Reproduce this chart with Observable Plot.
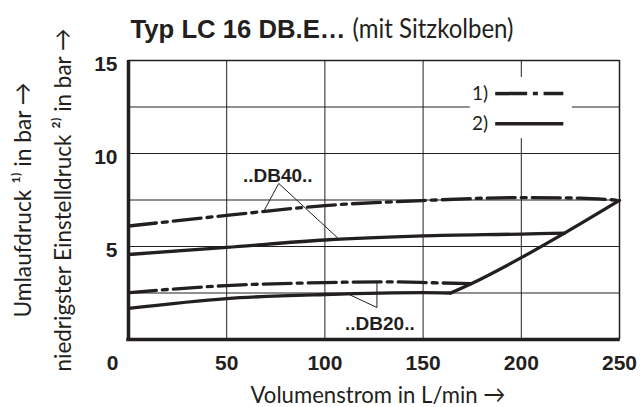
<!DOCTYPE html>
<html>
<head>
<meta charset="utf-8">
<script src="https://cdn.jsdelivr.net/npm/d3@7"></script>
<script src="https://cdn.jsdelivr.net/npm/@observablehq/plot@0.6"></script>
<style>
  html, body { margin: 0; padding: 0; background: #fff; }
  #chart { width: 642px; height: 407px; overflow: hidden; }
</style>
</head>
<body>
<div id="chart"></div>
<script>
// ---- data ----
const xTicks = [0, 50, 100, 150, 200, 250];
const yTicks = [5, 10, 15];
const xGrid = [50, 100, 150, 200];
const yGrid = [2.5, 5, 7.5, 10, 12.5];

// [Volumenstrom L/min, Druck bar]
const db40Umlauf = [[0, 6.1], [50, 6.67], [100, 7.2], [150, 7.47], [200, 7.63], [230, 7.6], [250, 7.48]];
const db40Einstell = [[0, 4.57], [50, 4.95], [100, 5.35], [150, 5.57], [200, 5.67], [222, 5.72]];
const db20Umlauf = [[0, 2.52], [50, 2.9], [100, 3.06], [130, 3.1], [155, 3.05], [174.5, 3.0]];
const db20Einstell = [[0, 1.67], [50, 2.2], [100, 2.42], [150, 2.52], [164, 2.5]];
const limitLine = [[164, 2.5], [174.5, 3.0], [200, 4.4], [222, 5.72], [250, 7.48]];

// annotations
const db40Label = {text: "..DB40..", x: 76, y: 8.82};
const db20Label = {text: "..DB20..", x: 128, y: 0.86};
const db40Leaders = [{x1: 76.5, y1: 8.39, x2: 68.9, y2: 6.9}, {x1: 76.5, y1: 8.39, x2: 106.6, y2: 5.45}];
const db20Leaders = [{x1: 126.5, y1: 1.72, x2: 126.5, y2: 3.12}, {x1: 126.5, y1: 1.72, x2: 111.7, y2: 2.45}];

// legend
const legendBox = [{x1: 174, x2: 226, y1: 10.8, y2: 14.09}];
const legendDashDot = [{label: "1)", y: 13.22, x1: 186.7, x2: 221.4}];
const legendSolid = [{label: "2)", y: 11.6, x1: 186.7, x2: 221.4}];

const titleBold = "Typ LC 16 DB.E…";
const titleRegular = "(mit Sitzkolben)";
const xLabel = "Volumenstrom in L/min →";
const yLabel1 = "Umlaufdruck ¹⁾ in bar →";
const yLabel2 = "niedrigster Einstelldruck ²⁾ in bar →";

// ---- chart ----
const ink = "#231f20";
const boldFont = "Liberation Sans, DejaVu Sans, sans-serif";
const lightFont = "Lato, Roboto, sans-serif";
const dashPattern = "28,6,5,6";
const lw = 3.3;
const P = d => d[0], Q = d => d[1];

const chart = Plot.plot({
  width: 642,
  height: 407,
  marginLeft: 128,
  marginRight: 23,
  marginTop: 60,
  marginBottom: 68,
  x: {domain: [0, 250]},
  y: {domain: [0, 15]},
  style: {background: "#fff", color: ink, overflow: "visible"},
  marks: [
    Plot.ruleY(yGrid, {stroke: ink, strokeWidth: 1}),
    Plot.ruleX(xGrid, {stroke: ink, strokeWidth: 1}),
    Plot.rect(legendBox, {x1: "x1", x2: "x2", y1: "y1", y2: "y2", fill: "#fff"}),
    // frame
    Plot.ruleY([15], {stroke: ink, strokeWidth: 1.5}),
    Plot.ruleX([250], {stroke: ink, strokeWidth: 1.5}),
    Plot.ruleX([0], {stroke: ink, strokeWidth: 3.5}),
    Plot.ruleY([0], {stroke: ink, strokeWidth: 3.5, x1: -0.9, x2: 250.4}),
    // curves
    Plot.line(db40Umlauf, {x: P, y: Q, curve: "monotone-x", stroke: ink, strokeWidth: lw, strokeDasharray: dashPattern}),
    Plot.line(db40Einstell, {x: P, y: Q, curve: "monotone-x", stroke: ink, strokeWidth: lw}),
    Plot.line(db20Umlauf, {x: P, y: Q, curve: "monotone-x", stroke: ink, strokeWidth: lw, strokeDasharray: dashPattern}),
    Plot.line(db20Einstell, {x: P, y: Q, curve: "monotone-x", stroke: ink, strokeWidth: lw}),
    Plot.line(limitLine, {x: P, y: Q, curve: "monotone-x", stroke: ink, strokeWidth: lw, strokeLinejoin: "round"}),
    // leaders
    Plot.link(db40Leaders.concat(db20Leaders), {x1: "x1", y1: "y1", x2: "x2", y2: "y2", stroke: ink, strokeWidth: 1}),
    Plot.text([db40Label, db20Label], {x: "x", y: "y", text: "text", fontFamily: boldFont, fontWeight: "bold", fontSize: 19, fill: ink}),
    // legend
    Plot.link(legendDashDot, {x1: "x1", x2: "x2", y1: "y", y2: "y", stroke: ink, strokeWidth: 3.5, strokeDasharray: "32,5.7,5,5.7"}),
    Plot.link(legendSolid, {x1: "x1", x2: "x2", y1: "y", y2: "y", stroke: ink, strokeWidth: 3.5}),
    Plot.text(legendDashDot.concat(legendSolid), {x: "x1", y: "y", text: "label", textAnchor: "end", dx: -7, fontFamily: lightFont, fontSize: 19, fill: ink}),
    // axes
    Plot.axisY({ticks: yTicks, tickSize: 0, tickPadding: 11, label: null, dy: 4, fontFamily: boldFont, fontWeight: "bold", fontSize: 21, fill: ink}),
    Plot.axisX({ticks: xTicks.filter(d => d > 0), tickSize: 0, tickPadding: 16, label: null, fontFamily: boldFont, fontWeight: "bold", fontSize: 21, fill: ink}),
    Plot.axisX({ticks: xTicks.filter(d => d === 0), tickSize: 0, tickPadding: 16, dx: -16, label: null, fontFamily: boldFont, fontWeight: "bold", fontSize: 21, fill: ink}),
    // titles and axis labels
    Plot.text([titleBold], {frameAnchor: "top-left", textAnchor: "start", lineAnchor: "bottom", dx: 2, dy: -23, fontFamily: boldFont, fontWeight: "bold", fontSize: 26, fill: ink}),
    Plot.text([titleRegular], {frameAnchor: "top-left", textAnchor: "start", lineAnchor: "bottom", dx: 224, dy: -23, fontFamily: lightFont, fontSize: 26, fill: ink}),
    Plot.text([xLabel], {frameAnchor: "bottom", textAnchor: "middle", lineAnchor: "bottom", dx: 4, dy: 63, fontFamily: lightFont, fontSize: 24, fill: ink}),
    Plot.text([yLabel1], {frameAnchor: "left", textAnchor: "middle", lineAnchor: "bottom", rotate: -90, dx: -98, fontFamily: lightFont, fontSize: 24, fill: ink}),
    Plot.text([yLabel2], {frameAnchor: "left", textAnchor: "middle", lineAnchor: "bottom", rotate: -90, dx: -58, fontFamily: lightFont, fontSize: 24, fill: ink})
  ]
});

// condense the light-condensed texts to the reference widths
function fit(str, len) {
  d3.select(chart).selectAll("text")
    .filter(function () { return this.textContent === str; })
    .attr("textLength", len)
    .attr("lengthAdjust", "spacingAndGlyphs");
}
fit(titleBold, 215);
fit(titleRegular, 161);
fit(xLabel, 255);
fit(yLabel1, 235);
fit(yLabel2, 343);

document.getElementById("chart").appendChild(chart);
</script>
</body>
</html>
